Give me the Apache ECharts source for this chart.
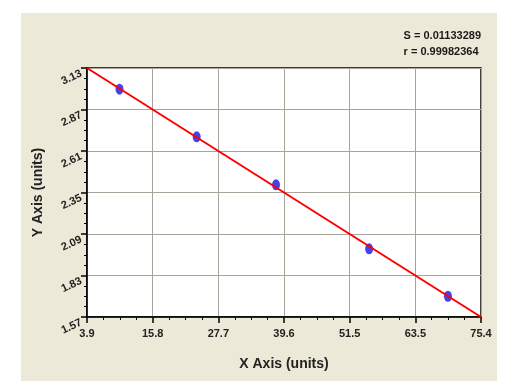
<!DOCTYPE html>
<html>
<head>
<meta charset="utf-8">
<script src="https://cdn.jsdelivr.net/npm/echarts@6/dist/echarts.min.js"></script>
<style>
html,body{margin:0;padding:0;background:#fff;}
#c{width:515px;height:387px;}
</style>
</head>
<body>
<div id="c"></div>
<script>
// Data
var pointsX = [9.8, 23.8, 38.2, 55.1, 69.4];
var pointsY = [2.997, 2.699, 2.398, 1.997, 1.700];
var fitX = [3.9, 75.4];
var fitY = [3.13, 1.57];
var xTickLabels = ['3.9', '15.8', '27.7', '39.6', '51.5', '63.5', '75.4'];
var yTickLabels = ['1.57', '1.83', '2.09', '2.35', '2.61', '2.87', '3.13'];
var statLines = ['S = 0.01133289', 'r = 0.99982364'];

var xMin = 3.9, xMax = 75.4, yMin = 1.57, yMax = 3.13;
var xStep = (xMax - xMin) / 6, yStep = (yMax - yMin) / 6;

function pickLabel(list, min, step) {
  return function (v) {
    var i = Math.round((v - min) / step);
    return (i >= 0 && i < list.length) ? list[i] : '';
  };
}

var chart = echarts.init(document.getElementById('c'), null, {renderer: 'canvas'});
var font = 'Arial, "Liberation Sans", sans-serif';
chart.setOption({
  animation: false,
  graphic: [
    {type: 'rect', z: -10, silent: true, shape: {x: 21, y: 13, width: 476, height: 368}, style: {fill: '#ece9d8'}},
    {type: 'text', right: 34, top: 28, style: {text: statLines.join('\n'), align: 'right', fill: '#1a1a1a', font: 'bold 11px ' + font, lineHeight: 16}}
  ],
  grid: {left: 87, top: 68, width: 394, height: 249, show: true, backgroundColor: '#ffffff', borderColor: '#000', borderWidth: 1.5},
  xAxis: {
    type: 'value', min: xMin, max: xMax, interval: xStep,
    name: 'X Axis (units)', nameLocation: 'middle', nameGap: 40,
    nameTextStyle: {fontFamily: font, fontWeight: 'bold', fontSize: 14, color: '#222'},
    axisLine: {show: true, lineStyle: {color: '#000', width: 1.5}},
    axisTick: {show: true, inside: false, length: 6, lineStyle: {color: '#000', width: 1.5}},
    minorTick: {show: true, splitNumber: 4, length: 3, lineStyle: {color: '#000', width: 1}},
    splitLine: {show: true, lineStyle: {color: '#a8a49a', width: 1}},
    axisLabel: {formatter: pickLabel(xTickLabels, xMin, xStep), fontFamily: font, fontWeight: 'bold', fontSize: 11, color: '#222', margin: 11, showMinLabel: true, showMaxLabel: true}
  },
  yAxis: {
    type: 'value', min: yMin, max: yMax, interval: yStep,
    name: 'Y Axis (units)', nameLocation: 'middle', nameGap: 42, nameRotate: 90,
    nameTextStyle: {fontFamily: font, fontWeight: 'bold', fontSize: 14, color: '#222'},
    axisLine: {show: true, lineStyle: {color: '#000', width: 1.5}},
    axisTick: {show: true, inside: false, length: 6, lineStyle: {color: '#000', width: 1.5}},
    minorTick: {show: true, splitNumber: 4, length: 3, lineStyle: {color: '#000', width: 1}},
    splitLine: {show: true, lineStyle: {color: '#a8a49a', width: 1}},
    axisLabel: {formatter: pickLabel(yTickLabels, yMin, yStep), rotate: 25, verticalAlign: 'top', fontFamily: font, fontWeight: 'bold', fontSize: 11, color: '#222', margin: 8, showMinLabel: true, showMaxLabel: true}
  },
  series: [
    {type: 'scatter', z: 2, symbol: 'circle', symbolSize: [8, 11], itemStyle: {color: '#1414e6'},
     data: pointsX.map(function (x, i) { return [x, pointsY[i]]; })},
    {type: 'line', z: 3, showSymbol: false, symbol: 'none', lineStyle: {color: '#ff0000', width: 2}, itemStyle: {color: '#ff0000'},
     data: fitX.map(function (x, i) { return [x, fitY[i]]; })}
  ]
});
</script>
</body>
</html>
